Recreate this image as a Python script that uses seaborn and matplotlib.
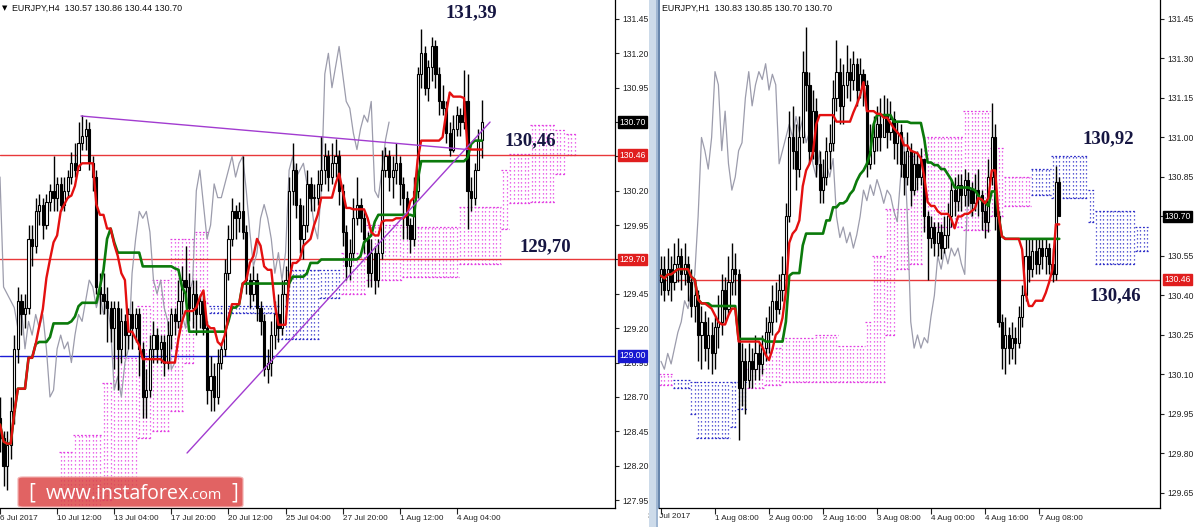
import numpy as np
import pandas as pd
import matplotlib
matplotlib.use("Agg")
import matplotlib.pyplot as plt
import matplotlib.transforms as mtransforms
from matplotlib.patches import FancyBboxPatch, Rectangle
import seaborn as sns

# ---------------- data: EURJPY H4 (left panel) ----------------
h4_first_open = 128.55
h4_close = [128.40, 128.20, 128.35, 128.60, 129.05, 129.40, 129.30, 129.35, 129.85, 129.80,
            130.05, 130.10, 129.95, 130.12, 130.20, 130.15, 130.25, 130.10, 130.20, 130.30,
            130.40, 130.35, 130.55, 130.60, 130.65, 130.40, 130.30, 129.50, 129.45, 129.40,
            129.35, 129.20, 129.35, 129.05, 129.25, 129.15, 129.30, 129.20, 129.30, 129.05,
            128.70, 128.75, 129.05, 129.15, 129.05, 129.10, 128.95, 129.15, 129.30, 129.25,
            129.40, 129.55, 129.50, 129.35, 129.45, 129.30, 129.40, 129.20, 128.75, 128.85,
            128.70, 128.95, 129.05, 129.60, 129.85, 130.05, 130.00, 130.05, 129.90, 129.55,
            129.45, 129.55, 129.35, 129.25, 128.90, 128.95, 129.15, 129.30, 129.20, 129.45,
            129.55, 130.20, 130.35, 130.10, 129.85, 129.95, 130.25, 130.15, 130.15, 130.25,
            130.35, 130.45, 130.30, 130.40, 130.45, 130.20, 129.90, 129.65, 129.75, 130.00,
            130.10, 130.00, 129.85, 129.60, 129.75, 129.55, 129.75, 130.35, 130.45, 130.30,
            130.35, 130.40, 130.25, 130.15, 129.95, 129.85, 130.20, 131.05, 131.20, 130.95,
            131.10, 131.25, 131.05, 130.85, 130.80, 130.62, 130.50, 130.65, 130.75, 130.70,
            130.85, 130.20, 130.15, 130.35, 130.57, 130.70]
h4_high = [128.70, 128.45, 128.45, 128.70, 129.15, 129.50, 129.45, 129.45, 129.95, 129.95,
           130.15, 130.18, 130.15, 130.18, 130.25, 130.45, 130.30, 130.30, 130.30, 130.35,
           130.48, 130.55, 130.70, 130.75, 130.72, 130.70, 130.45, 130.35, 129.60, 129.60,
           129.50, 129.40, 129.40, 129.40, 129.35, 129.30, 129.35, 129.40, 129.35, 129.35,
           129.10, 128.90, 129.15, 129.25, 129.20, 129.15, 129.15, 129.25, 129.35, 129.35,
           129.55, 129.65, 129.80, 129.60, 129.55, 129.55, 129.45, 129.45, 129.25, 129.00,
           128.95, 129.05, 129.10, 129.70, 129.95, 130.15, 130.10, 130.12, 130.45, 129.95,
           129.60, 129.65, 129.60, 129.40, 129.30, 129.05, 129.25, 129.40, 129.45, 129.55,
           129.65, 130.30, 130.55, 130.40, 130.15, 130.10, 130.35, 130.30, 130.25, 130.35,
           130.60, 130.55, 130.50, 130.55, 130.58, 130.50, 130.25, 129.95, 129.85, 130.15,
           130.30, 130.15, 130.05, 129.90, 129.85, 129.80, 129.85, 130.50, 130.52, 130.50,
           130.45, 130.55, 130.45, 130.30, 130.20, 130.00, 130.30, 131.10, 131.38, 131.25,
           131.15, 131.32, 131.30, 131.10, 130.97, 130.85, 130.70, 130.75, 130.82, 130.80,
           131.08, 131.05, 130.30, 130.40, 130.65, 130.86]
h4_low = [128.30, 128.05, 128.02, 128.25, 128.50, 128.95, 129.15, 129.20, 129.30, 129.65,
          129.75, 129.95, 129.85, 129.92, 130.05, 130.05, 130.05, 130.05, 130.05, 130.15,
          130.25, 130.30, 130.35, 130.50, 130.50, 130.35, 130.20, 129.45, 129.30, 129.30,
          129.10, 129.10, 128.90, 128.75, 128.95, 129.00, 129.05, 129.05, 129.10, 128.85,
          128.55, 128.55, 128.70, 128.95, 128.95, 128.95, 128.85, 128.90, 129.05, 129.15,
          129.20, 129.30, 129.40, 129.25, 129.20, 129.15, 129.20, 129.15, 128.65, 128.60,
          128.60, 128.65, 128.90, 129.00, 129.55, 129.80, 129.85, 129.90, 129.85, 129.45,
          129.35, 129.40, 129.25, 129.15, 128.85, 128.80, 128.85, 129.05, 129.10, 129.15,
          129.35, 129.50, 130.10, 130.00, 129.75, 129.70, 129.90, 130.05, 130.05, 130.10,
          130.20, 130.25, 130.20, 130.25, 130.30, 130.10, 129.80, 129.55, 129.55, 129.70,
          129.95, 129.90, 129.75, 129.50, 129.50, 129.45, 129.50, 129.70, 130.30, 130.20,
          130.15, 130.25, 130.10, 129.85, 129.85, 129.75, 129.80, 130.15, 130.95, 130.90,
          130.85, 131.00, 130.95, 130.75, 130.75, 130.55, 130.45, 130.48, 130.60, 130.60,
          130.65, 129.92, 130.05, 130.10, 130.35, 130.44]
h4_tick_bars = [0, 16, 32, 48, 64, 80, 96, 112, 128]
h4_tick_labels = ["6 Jul 2017", "10 Jul 12:00", "13 Jul 04:00", "17 Jul 20:00",
                  "20 Jul 12:00", "25 Jul 04:00", "27 Jul 20:00", "1 Aug 12:00",
                  "4 Aug 04:00"]
# Ichimoku cloud (Senkou Span A / B), piecewise constant runs starting at these bars
h4_cloud_start = [17, 21, 29, 32, 39, 43, 48, 52, 55, 59, 78, 81, 90, 96, 103, 113,
                  129, 141, 143, 149, 156, 159]
h4_cloud_a = [127.80, 127.80, 127.95, 128.00, 128.40, 128.45, 128.60, 128.95, 129.38,
              129.36, 129.36, 129.62, 129.62, 129.45, 129.55, 129.57, 129.67, 129.92,
              130.11, 130.12, 130.32, 130.46]
h4_cloud_b = [128.30, 128.42, 128.80, 128.98, 129.36, 129.55, 129.85, 129.85, 129.90,
              129.31, 129.12, 129.12, 129.42, 129.75, 129.95, 129.94, 130.08, 130.35,
              130.47, 130.68, 130.64, 130.61]
h4_cloud_end = 162
h4_levels = [130.46, 129.70, 129.00]
h4_trend_bars = [[22.7, 131.0], [52.4, 137.3]]
h4_trend_prices = [[130.744, 130.50], [128.292, 130.70]]
h4_yticks = [127.95, 128.20, 128.45, 128.70, 128.95, 129.20, 129.45, 129.70, 129.95,
             130.20, 130.45, 130.70, 130.95, 131.20, 131.45]
h4_hidden_ticks = [130.70, 130.45, 129.70]   # covered by the price tags

# ---------------- data: EURJPY H1 (right panel) ----------------
h1_first_open = 130.45
h1_close = [130.50, 130.42, 130.50, 130.45, 130.52, 130.55, 130.48, 130.52, 130.45, 130.36,
            130.40, 130.25, 130.30, 130.20, 130.25, 130.18, 130.28, 130.30, 130.42, 130.35,
            130.45, 130.50, 130.48, 130.05, 130.15, 130.08, 130.15, 130.12, 130.18, 130.14,
            130.20, 130.26, 130.30, 130.38, 130.35, 130.42, 130.48, 130.70, 131.00, 130.95,
            130.88, 131.00, 131.25, 131.20, 130.95, 131.10, 130.90, 130.80, 130.85, 130.95,
            130.98, 131.15, 131.25, 131.12, 131.20, 131.25, 131.22, 131.28, 131.18, 131.24,
            131.20, 130.90, 130.95, 131.00, 131.05, 131.00, 131.08, 131.02, 131.07, 130.98,
            131.02, 130.90, 130.85, 130.95, 130.80, 130.90, 130.85, 130.92, 130.70, 130.62,
            130.66, 130.60, 130.64, 130.58, 130.63, 130.70, 130.80, 130.76, 130.82, 130.78,
            130.84, 130.80, 130.75, 130.80, 130.78, 130.72, 130.68, 130.85, 131.00, 130.70,
            130.30, 130.20, 130.25, 130.20, 130.24, 130.22, 130.32, 130.40, 130.55, 130.50,
            130.57, 130.52, 130.58, 130.55, 130.58, 130.52, 130.48, 130.83, 130.70]
h1_high = [130.55, 130.55, 130.58, 130.55, 130.60, 130.62, 130.58, 130.60, 130.55, 130.50,
           130.46, 130.42, 130.36, 130.34, 130.32, 130.30, 130.32, 130.40, 130.48, 130.47,
           130.55, 130.60, 130.56, 130.50, 130.22, 130.20, 130.22, 130.20, 130.25, 130.22,
           130.25, 130.32, 130.36, 130.44, 130.45, 130.48, 130.55, 130.75, 131.10, 131.12,
           131.05, 131.08, 131.33, 131.42, 131.25, 131.18, 131.15, 130.95, 130.92, 131.00,
           131.05, 131.22, 131.37, 131.30, 131.28, 131.35, 131.30, 131.33, 131.30, 131.30,
           131.26, 131.22, 131.05, 131.08, 131.12, 131.15, 131.16, 131.15, 131.14, 131.10,
           131.06, 131.05, 130.95, 131.02, 130.98, 130.95, 130.95, 130.96, 130.92, 130.72,
           130.70, 130.68, 130.68, 130.67, 130.70, 130.75, 130.84, 130.85, 130.86, 130.86,
           130.88, 130.87, 130.83, 130.86, 130.88, 130.80, 130.75, 130.92, 131.13, 131.05,
           130.72, 130.33, 130.32, 130.28, 130.30, 130.28, 130.36, 130.44, 130.62, 130.62,
           130.62, 130.62, 130.62, 130.62, 130.62, 130.60, 130.58, 130.89, 130.85]
h1_low = [130.40, 130.38, 130.40, 130.38, 130.42, 130.45, 130.42, 130.44, 130.38, 130.32,
          130.30, 130.15, 130.12, 130.15, 130.12, 130.10, 130.12, 130.20, 130.25, 130.30,
          130.33, 130.40, 130.40, 129.85, 129.98, 129.95, 130.05, 130.05, 130.08, 130.08,
          130.10, 130.15, 130.18, 130.25, 130.30, 130.33, 130.38, 130.46, 130.68, 130.88,
          130.80, 130.85, 130.98, 131.10, 130.90, 130.92, 130.85, 130.75, 130.75, 130.82,
          130.88, 130.95, 131.10, 131.05, 131.05, 131.15, 131.14, 131.18, 131.12, 131.15,
          131.12, 130.85, 130.88, 130.90, 130.95, 130.95, 131.00, 130.96, 130.99, 130.92,
          130.90, 130.85, 130.78, 130.82, 130.74, 130.78, 130.80, 130.82, 130.64, 130.46,
          130.58, 130.55, 130.55, 130.54, 130.56, 130.58, 130.66, 130.70, 130.72, 130.72,
          130.74, 130.74, 130.70, 130.72, 130.70, 130.65, 130.62, 130.64, 130.82, 130.65,
          130.28, 130.12, 130.10, 130.14, 130.16, 130.14, 130.20, 130.28, 130.38, 130.45,
          130.47, 130.48, 130.48, 130.50, 130.48, 130.48, 130.45, 130.46, 130.70]
h1_tick_bars = [0, 16, 32, 48, 64, 80, 96, 112]
h1_tick_labels = ["31 Jul 2017", "1 Aug 08:00", "2 Aug 00:00", "2 Aug 16:00",
                  "3 Aug 08:00", "4 Aug 00:00", "4 Aug 16:00", "7 Aug 08:00"]
h1_cloud_start = [0, 4, 9, 11, 21, 23, 26, 31, 36, 46, 53, 61, 63, 67, 70, 74, 78, 90,
                  98, 102, 110, 116, 127, 129, 141]
h1_cloud_a = [130.06, 130.08, 130.07, 130.07, 130.07, 130.07, 130.05, 130.06, 130.07,
              130.07, 130.07, 130.07, 130.07, 130.25, 130.50, 130.52, 130.66, 130.65,
              130.70, 130.74, 130.88, 130.93, 130.80, 130.72, 130.66]
h1_cloud_b = [130.10, 130.05, 129.95, 129.86, 129.90, 129.97, 130.12, 130.20, 130.24,
              130.25, 130.21, 130.30, 130.55, 130.73, 130.73, 130.93, 131.00, 131.10,
              130.96, 130.85, 130.78, 130.77, 130.68, 130.52, 130.57]
h1_cloud_end = 145
h1_levels = [130.46]
h1_yticks = [129.65, 129.80, 129.95, 130.10, 130.25, 130.40, 130.55, 130.70, 130.85,
             131.00, 131.15, 131.30, 131.45]
h1_hidden_ticks = [130.70]

# annotation texts
left_notes = ["131,39", "130,46", "129,70"]
right_notes = ["130,92", "130,46"]

# ---------------- styling / figure ----------------
sns.set_theme(style="white")
plt.rcParams['font.family'] = ['Liberation Sans', 'DejaVu Sans']

W, H = 1200, 527
fig = plt.figure(figsize=(W / 100, H / 100), dpi=100)
fig.patch.set_facecolor("white")


def px_axes(x0, y0, x1, y1):
    return fig.add_axes([x0 / W, 1 - y1 / H, (x1 - x0) / W, (y1 - y0) / H])


axL = px_axes(0, 0, 615, 508)
axR = px_axes(659, 0, 1160, 508)

PINK = "#e23ce2"
BLUE = "#2c2cc8"
RED_LEVEL = "#e8383a"
BLUE_LEVEL = "#1c1cd6"


def frame(o0, c, h, l):
    c = np.asarray(c, float)
    o = np.concatenate([[o0], c[:-1]])
    return pd.DataFrame({"bar": np.arange(len(c)), "o": o, "h": np.asarray(h, float),
                         "l": np.asarray(l, float), "c": c})


def draw_cloud(ax, starts, a_vals, b_vals, end):
    lens = np.diff(list(starts) + [end])
    bars = np.arange(starts[0], end)
    a = np.repeat(a_vals, lens)
    b = np.repeat(b_vals, lens)
    col = np.where(b > a, PINK, BLUE)
    ax.vlines(bars, np.minimum(a, b), np.maximum(a, b), colors=list(col),
              linestyles=(0, (1.0, 2.2)), lw=0.9, zorder=1)
    s_arr = list(starts) + [end]
    for i in range(len(starts)):
        cc = PINK if b_vals[i] > a_vals[i] else BLUE
        for v in (a_vals[i], b_vals[i]):
            ax.hlines(v, s_arr[i] - 0.5, s_arr[i + 1] - 0.5, colors=cc,
                      linestyles=(0, (1.5, 1.5)), lw=0.9, zorder=1)


def draw_candles(ax, df, width=0.62):
    x = df["bar"].values
    o, h, l, c = df["o"].values, df["h"].values, df["l"].values, df["c"].values
    ax.vlines(x, l, h, color="black", lw=1.0, zorder=5)
    up = c >= o
    bot = np.minimum(o, c)
    hh = np.maximum(np.abs(c - o), 0.006)
    ax.bar(x[up], hh[up], bottom=bot[up], width=width, color="white",
           edgecolor="black", lw=0.8, zorder=6)
    ax.bar(x[~up], hh[~up], bottom=bot[~up], width=width, color="black",
           edgecolor="black", lw=0.8, zorder=6)


def draw_ichimoku_lines(ax, df):
    hs, ls = df["h"], df["l"]
    tenkan = (hs.rolling(9, min_periods=1).max() + ls.rolling(9, min_periods=1).min()) / 2
    kijun = (hs.rolling(26, min_periods=1).max() + ls.rolling(26, min_periods=1).min()) / 2
    chikou = df["c"].shift(-26)
    lines = pd.DataFrame({"bar": df["bar"], "tenkan": tenkan, "kijun": kijun, "chikou": chikou})
    ch = lines.dropna(subset=["chikou"])
    sns.lineplot(data=ch, x="bar", y="chikou", ax=ax, color="#9c9cac", lw=0.9,
                 estimator=None, sort=False, zorder=3)
    sns.lineplot(data=lines, x="bar", y="kijun", ax=ax, color="#0b7a0b", lw=1.9,
                 estimator=None, sort=False, zorder=7)
    sns.lineplot(data=lines, x="bar", y="tenkan", ax=ax, color="#e41010", lw=1.7,
                 estimator=None, sort=False, zorder=8)


def style_axes(ax, xlim, ylim, yticks, hide_labels, tick_bars, tick_labels, left_spine):
    ax.set_xlim(*xlim)
    ax.set_ylim(*ylim)
    ax.set_xlabel("")
    ax.set_ylabel("")
    ax.yaxis.tick_right()
    ax.set_yticks(yticks)
    ax.set_yticklabels(["" if any(abs(v - hv) < 1e-6 for hv in hide_labels) else f"{v:.2f}"
                        for v in yticks])
    ax.set_xticks(tick_bars)
    ax.set_xticklabels(tick_labels)
    for t in ax.get_xticklabels():
        t.set_ha("left")
    ax.tick_params(axis="y", length=3, width=0.8, pad=2, labelsize=6.2,
                   colors="#222222", right=True, left=False)
    ax.tick_params(axis="x", length=4, width=0.8, pad=1, labelsize=5.9,
                   colors="#222222", bottom=True)
    ax.grid(False)
    ax.set_facecolor("white")
    for side in ("top", "left", "right", "bottom"):
        ax.spines[side].set_visible(False)
    for side in ("right", "bottom"):
        ax.spines[side].set_visible(True)
        ax.spines[side].set_color("black")
        ax.spines[side].set_linewidth(0.9)
    if left_spine:
        ax.spines["left"].set_visible(True)
        ax.spines["left"].set_color("#4a6e9c")
        ax.spines["left"].set_linewidth(1.2)


def tag(ax, price, fc):
    trans = mtransforms.blended_transform_factory(ax.transAxes, ax.transData)
    trans = trans + mtransforms.ScaledTranslation(4 / 100, 0, fig.dpi_scale_trans)
    ax.text(1.0, price, f"{price:.2f}", transform=trans, ha="left", va="center",
            fontsize=6.2, color="white", clip_on=False, zorder=30,
            bbox=dict(boxstyle="square,pad=0.15", fc=fc, ec=fc))


# ---------------- left panel (H4) ----------------
dfL = frame(h4_first_open, h4_close, h4_high, h4_low)
draw_cloud(axL, h4_cloud_start, h4_cloud_a, h4_cloud_b, h4_cloud_end)
for lv, colr in zip(h4_levels, [RED_LEVEL, RED_LEVEL, BLUE_LEVEL]):
    axL.axhline(lv, color=colr, lw=1.0, zorder=2)
draw_ichimoku_lines(axL, dfL)
draw_candles(axL, dfL)
for tb, tp in zip(h4_trend_bars, h4_trend_prices):
    axL.plot(tb, tp, color="#a23cd0", lw=1.0, zorder=9)
style_axes(axL, (0, 172.3), (127.892, 131.588), h4_yticks, h4_hidden_ticks,
           h4_tick_bars, h4_tick_labels, False)
tag(axL, h4_close[-1], "black")
for lv, colr in zip(h4_levels, ["#e01e1e", "#e01e1e", "#1818d0"]):
    tag(axL, lv, colr)

# ---------------- right panel (H1) ----------------
dfR = frame(h1_first_open, h1_close, h1_high, h1_low)
draw_cloud(axR, h1_cloud_start, h1_cloud_a, h1_cloud_b, h1_cloud_end)
for lv in h1_levels:
    axR.axhline(lv, color=RED_LEVEL, lw=1.0, zorder=2)
draw_ichimoku_lines(axR, dfR)
draw_candles(axR, dfR, width=0.6)
style_axes(axR, (-0.59, 147.85), (129.593, 131.522), h1_yticks, h1_hidden_ticks,
           h1_tick_bars, [""] + h1_tick_labels[1:], True)
tag(axR, h1_close[-1], "black")
tag(axR, h1_levels[0], "#e01e1e")

# ---------------- figure decorations ----------------
def ftext(x, y, s, **kw):
    return fig.text(x / W, 1 - y / H, s, **kw)

ftext(2, 8, "\u25bc", fontsize=5, va="center", ha="left", color="black",
      family=["DejaVu Sans"])
ftext(12, 8, "EURJPY,H4  130.57 130.86 130.44 130.70", fontsize=6.4, va="center",
      ha="left", color="#111111")
ftext(662, 8, "EURJPY,H1  130.83 130.85 130.70 130.70", fontsize=6.4, va="center",
      ha="left", color="#111111", zorder=5)
# first date label of the right chart, partly hidden by the window frame
ftext(648, 513, h1_tick_labels[0], fontsize=5.9, va="top", ha="left",
      color="#222222", zorder=1)

note_kw = dict(family=["Liberation Serif"], fontweight="bold", fontsize=13.5,
               color="#161642", ha="center", va="center")
for s, (x, y) in zip(left_notes, [(471, 13), (530, 141), (545, 247)]):
    ftext(x, y, s, **note_kw)
for s, (x, y) in zip(right_notes, [(1108, 139), (1115, 296)]):
    ftext(x, y, s, **note_kw)

# window separator between the two charts
fig.add_artist(Rectangle((649 / W, 0), 9 / W, 1, transform=fig.transFigure,
                         facecolor="#cddbea", edgecolor="none", zorder=40))
fig.add_artist(Rectangle((656 / W, 0), 2 / W, 1, transform=fig.transFigure,
                         facecolor="#9fb6d2", edgecolor="none", zorder=41))

# watermark
fig.add_artist(FancyBboxPatch((18 / W, 1 - 507 / H), 225 / W, 30 / H,
                              boxstyle="round,pad=0,rounding_size=0.004",
                              transform=fig.transFigure, facecolor="#dc4848",
                              edgecolor="#f2b0b0", lw=1.0, alpha=0.85, zorder=50))
wm = dict(color="white", va="baseline", zorder=51, family=["Open Sans", "DejaVu Sans"])
ftext(28, 499, "[", fontsize=15, ha="left", **wm)
t_www = ftext(46, 499, "www.instaforex", fontsize=15, ha="left", **wm)
fig.canvas.draw()
rend = fig.canvas.get_renderer()
bb = t_www.get_window_extent(rend)
t_www.set_fontsize(15 * 144 / bb.width)
bb = t_www.get_window_extent(rend)
fig.text(bb.x1 / W, 1 - 499 / H, ".com", fontsize=10.5, ha="left", **wm)
ftext(231, 499, "]", fontsize=15, ha="left", **wm)

fig.savefig("out.png", dpi=100, facecolor="white")
